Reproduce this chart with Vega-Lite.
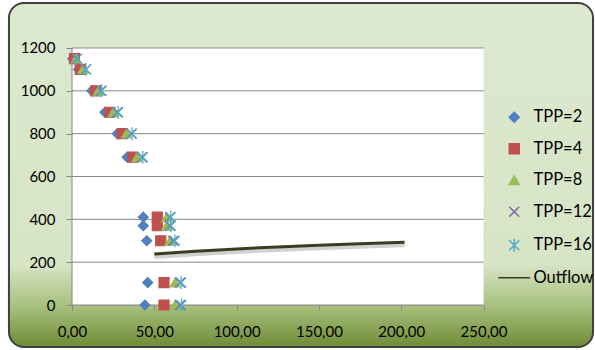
{
  "$schema": "https://vega.github.io/schema/vega-lite/v6.json",
  "width": 595,
  "height": 350,
  "autosize": {"type": "none"},
  "padding": 0,
  "background": "white",
  "config": {
    "view": {"stroke": null},
    "axis": {"labelFont": "Lato", "labelFontSize": 15, "labelColor": "#000000", "tickColor": "#868686", "domain": false, "grid": false}
  },
  "datasets": {
    "pts": [
      {"series": "TPP=2", "x": 0.5, "y": 1150}, {"series": "TPP=2", "x": 4, "y": 1100}, {"series": "TPP=2", "x": 12, "y": 1000}, {"series": "TPP=2", "x": 20, "y": 900}, {"series": "TPP=2", "x": 27.5, "y": 800}, {"series": "TPP=2", "x": 33.5, "y": 690}, {"series": "TPP=2", "x": 43.3, "y": 410}, {"series": "TPP=2", "x": 43.3, "y": 370}, {"series": "TPP=2", "x": 45.4, "y": 300}, {"series": "TPP=2", "x": 46, "y": 105}, {"series": "TPP=2", "x": 44.3, "y": 0},
      {"series": "TPP=4", "x": 1.5, "y": 1150}, {"series": "TPP=4", "x": 5, "y": 1100}, {"series": "TPP=4", "x": 14.5, "y": 1000}, {"series": "TPP=4", "x": 23, "y": 900}, {"series": "TPP=4", "x": 30.5, "y": 800}, {"series": "TPP=4", "x": 37, "y": 690}, {"series": "TPP=4", "x": 51.8, "y": 410}, {"series": "TPP=4", "x": 51.8, "y": 370}, {"series": "TPP=4", "x": 53.9, "y": 300}, {"series": "TPP=4", "x": 55.9, "y": 105}, {"series": "TPP=4", "x": 55.9, "y": 0},
      {"series": "TPP=8", "x": 2.5, "y": 1150}, {"series": "TPP=8", "x": 6.5, "y": 1100}, {"series": "TPP=8", "x": 16, "y": 1000}, {"series": "TPP=8", "x": 25, "y": 900}, {"series": "TPP=8", "x": 33, "y": 800}, {"series": "TPP=8", "x": 39.5, "y": 690}, {"series": "TPP=8", "x": 57.5, "y": 410}, {"series": "TPP=8", "x": 57.5, "y": 370}, {"series": "TPP=8", "x": 59.5, "y": 300}, {"series": "TPP=8", "x": 62.6, "y": 105}, {"series": "TPP=8", "x": 62.6, "y": 0},
      {"series": "TPP=12", "x": 3, "y": 1150}, {"series": "TPP=12", "x": 8.5, "y": 1100}, {"series": "TPP=12", "x": 17.5, "y": 1000}, {"series": "TPP=12", "x": 27.5, "y": 900}, {"series": "TPP=12", "x": 36, "y": 800}, {"series": "TPP=12", "x": 42.5, "y": 690}, {"series": "TPP=12", "x": 59.5, "y": 410}, {"series": "TPP=12", "x": 59.5, "y": 370}, {"series": "TPP=12", "x": 61.5, "y": 300}, {"series": "TPP=12", "x": 65.6, "y": 105}, {"series": "TPP=12", "x": 65.6, "y": 0},
      {"series": "TPP=16", "x": 3, "y": 1150}, {"series": "TPP=16", "x": 8.5, "y": 1100}, {"series": "TPP=16", "x": 18, "y": 1000}, {"series": "TPP=16", "x": 28, "y": 900}, {"series": "TPP=16", "x": 36.5, "y": 800}, {"series": "TPP=16", "x": 43, "y": 690}, {"series": "TPP=16", "x": 60, "y": 410}, {"series": "TPP=16", "x": 60, "y": 370}, {"series": "TPP=16", "x": 62.5, "y": 300}, {"series": "TPP=16", "x": 66.3, "y": 105}, {"series": "TPP=16", "x": 66.5, "y": 0}
    ],
    "outflow": [
      {"x": 50, "y": 238}, {"x": 75, "y": 251}, {"x": 100, "y": 262}, {"x": 125, "y": 271}, {"x": 150, "y": 279}, {"x": 175, "y": 286}, {"x": 202, "y": 293}
    ],
    "grid": [{"g": 0}, {"g": 200}, {"g": 400}, {"g": 600}, {"g": 800}, {"g": 1000}, {"g": 1200}],
    "one": [{"k": 1}]
  },
  "layer": [
    {
      "data": {"name": "one"},
      "mark": {"type": "rect", "cornerRadius": 15, "stroke": "#404040", "strokeWidth": 2,
        "fill": {"gradient": "linear", "x1": 0, "y1": 0, "x2": 0, "y2": 1, "stops": [
          {"offset": 0, "color": "#dde9cf"}, {"offset": 0.76, "color": "#d7e4c6"}, {"offset": 0.88, "color": "#a8c17f"}, {"offset": 1, "color": "#6f8b35"}]}},
      "encoding": {
        "x": {"datum": -38.3, "type": "quantitative", "scale": {"domain": [-43.74, 317.7], "nice": false, "zero": false}},
        "x2": {"datum": 316.5},
        "y": {"datum": 1410, "type": "quantitative", "scale": {"domain": [-210, 1424], "nice": false, "zero": false}},
        "y2": {"datum": -196}
      }
    },
    {
      "data": {"name": "one"},
      "mark": {"type": "rect", "fill": "white"},
      "encoding": {
        "x": {"datum": 0, "type": "quantitative"},
        "x2": {"datum": 250},
        "y": {"datum": 1200, "type": "quantitative"},
        "y2": {"datum": 0}
      }
    },
    {
      "data": {"name": "grid"},
      "mark": {"type": "rule", "color": "#868686", "strokeWidth": 1},
      "encoding": {
        "y": {"field": "g", "type": "quantitative"},
        "x": {"datum": 0, "type": "quantitative"},
        "x2": {"datum": 250}
      }
    },
    {
      "data": {"name": "one"},
      "mark": {"type": "rule", "color": "#868686", "strokeWidth": 1},
      "encoding": {
        "x": {"datum": 0, "type": "quantitative"},
        "y": {"datum": 0, "type": "quantitative"},
        "y2": {"datum": 1200}
      }
    },
    {
      "data": {"name": "outflow"},
      "mark": {"type": "line", "color": "#000000", "opacity": 0.18, "strokeWidth": 4, "yOffset": 3, "interpolate": "monotone"},
      "encoding": {
        "x": {"field": "x", "type": "quantitative"},
        "y": {"field": "y", "type": "quantitative"}
      }
    },
    {
      "data": {"name": "outflow"},
      "mark": {"type": "line", "color": "#3d3b22", "strokeWidth": 3, "interpolate": "monotone"},
      "encoding": {
        "x": {"field": "x", "type": "quantitative"},
        "y": {"field": "y", "type": "quantitative"}
      }
    },
    {
      "data": {"name": "pts"},
      "mark": {"type": "point", "filled": false, "opacity": 1, "strokeWidth": 1.2, "size": 100},
      "encoding": {
        "x": {"field": "x", "type": "quantitative", "scale": {"domain": [-43.74, 317.7], "nice": false, "zero": false},
          "axis": {"title": null, "orient": "bottom", "offset": -45, "values": [0, 50, 100, 150, 200, 250], "tickSize": 5, "labelPadding": 14, "zindex": 2, "labelExpr": "replace(format(datum.value, '.2f'), '.', ',')"}},
        "y": {"field": "y", "type": "quantitative", "scale": {"domain": [-210, 1424], "nice": false, "zero": false},
          "axis": {"title": null, "orient": "left", "offset": -72, "values": [0, 200, 400, 600, 800, 1000, 1200], "tickSize": 6, "labelPadding": 11, "zindex": 2, "format": "d"}},
        "shape": {"field": "series", "type": "nominal", "title": null,
          "scale": {"domain": ["TPP=2", "TPP=4", "TPP=8", "TPP=12", "TPP=16", "Outflow"],
            "range": ["diamond", "square", "triangle-up", "M-1,-1L1,1M1,-1L-1,1", "M-1,-1L1,1M1,-1L-1,1M0,-1.3L0,1.3", "M-3.2,0L3.2,0"]},
          "legend": {"orient": "none", "legendX": 506, "legendY": 109, "padding": 0, "labelFont": "Lato", "labelFontSize": 16.5, "labelColor": "#000000", "symbolSize": 100, "rowPadding": 14.5, "labelOffset": 11,
            "encode": {"symbols": {"update": {"strokeWidth": {"signal": "datum.value === 'Outflow' ? 3 : 1.2"}}}}}},
        "fill": {"field": "series", "type": "nominal", "title": null,
          "scale": {"domain": ["TPP=2", "TPP=4", "TPP=8", "TPP=12", "TPP=16", "Outflow"],
            "range": ["#4f81bd", "#c0504d", "#9bbb59", "#8064a2", "#4bacc6", "#3d3b22"]}},
        "stroke": {"field": "series", "type": "nominal", "title": null,
          "scale": {"domain": ["TPP=2", "TPP=4", "TPP=8", "TPP=12", "TPP=16", "Outflow"],
            "range": ["#4f81bd", "#c0504d", "#9bbb59", "#8064a2", "#4bacc6", "#3d3b22"]}}
      }
    }
  ]
}
